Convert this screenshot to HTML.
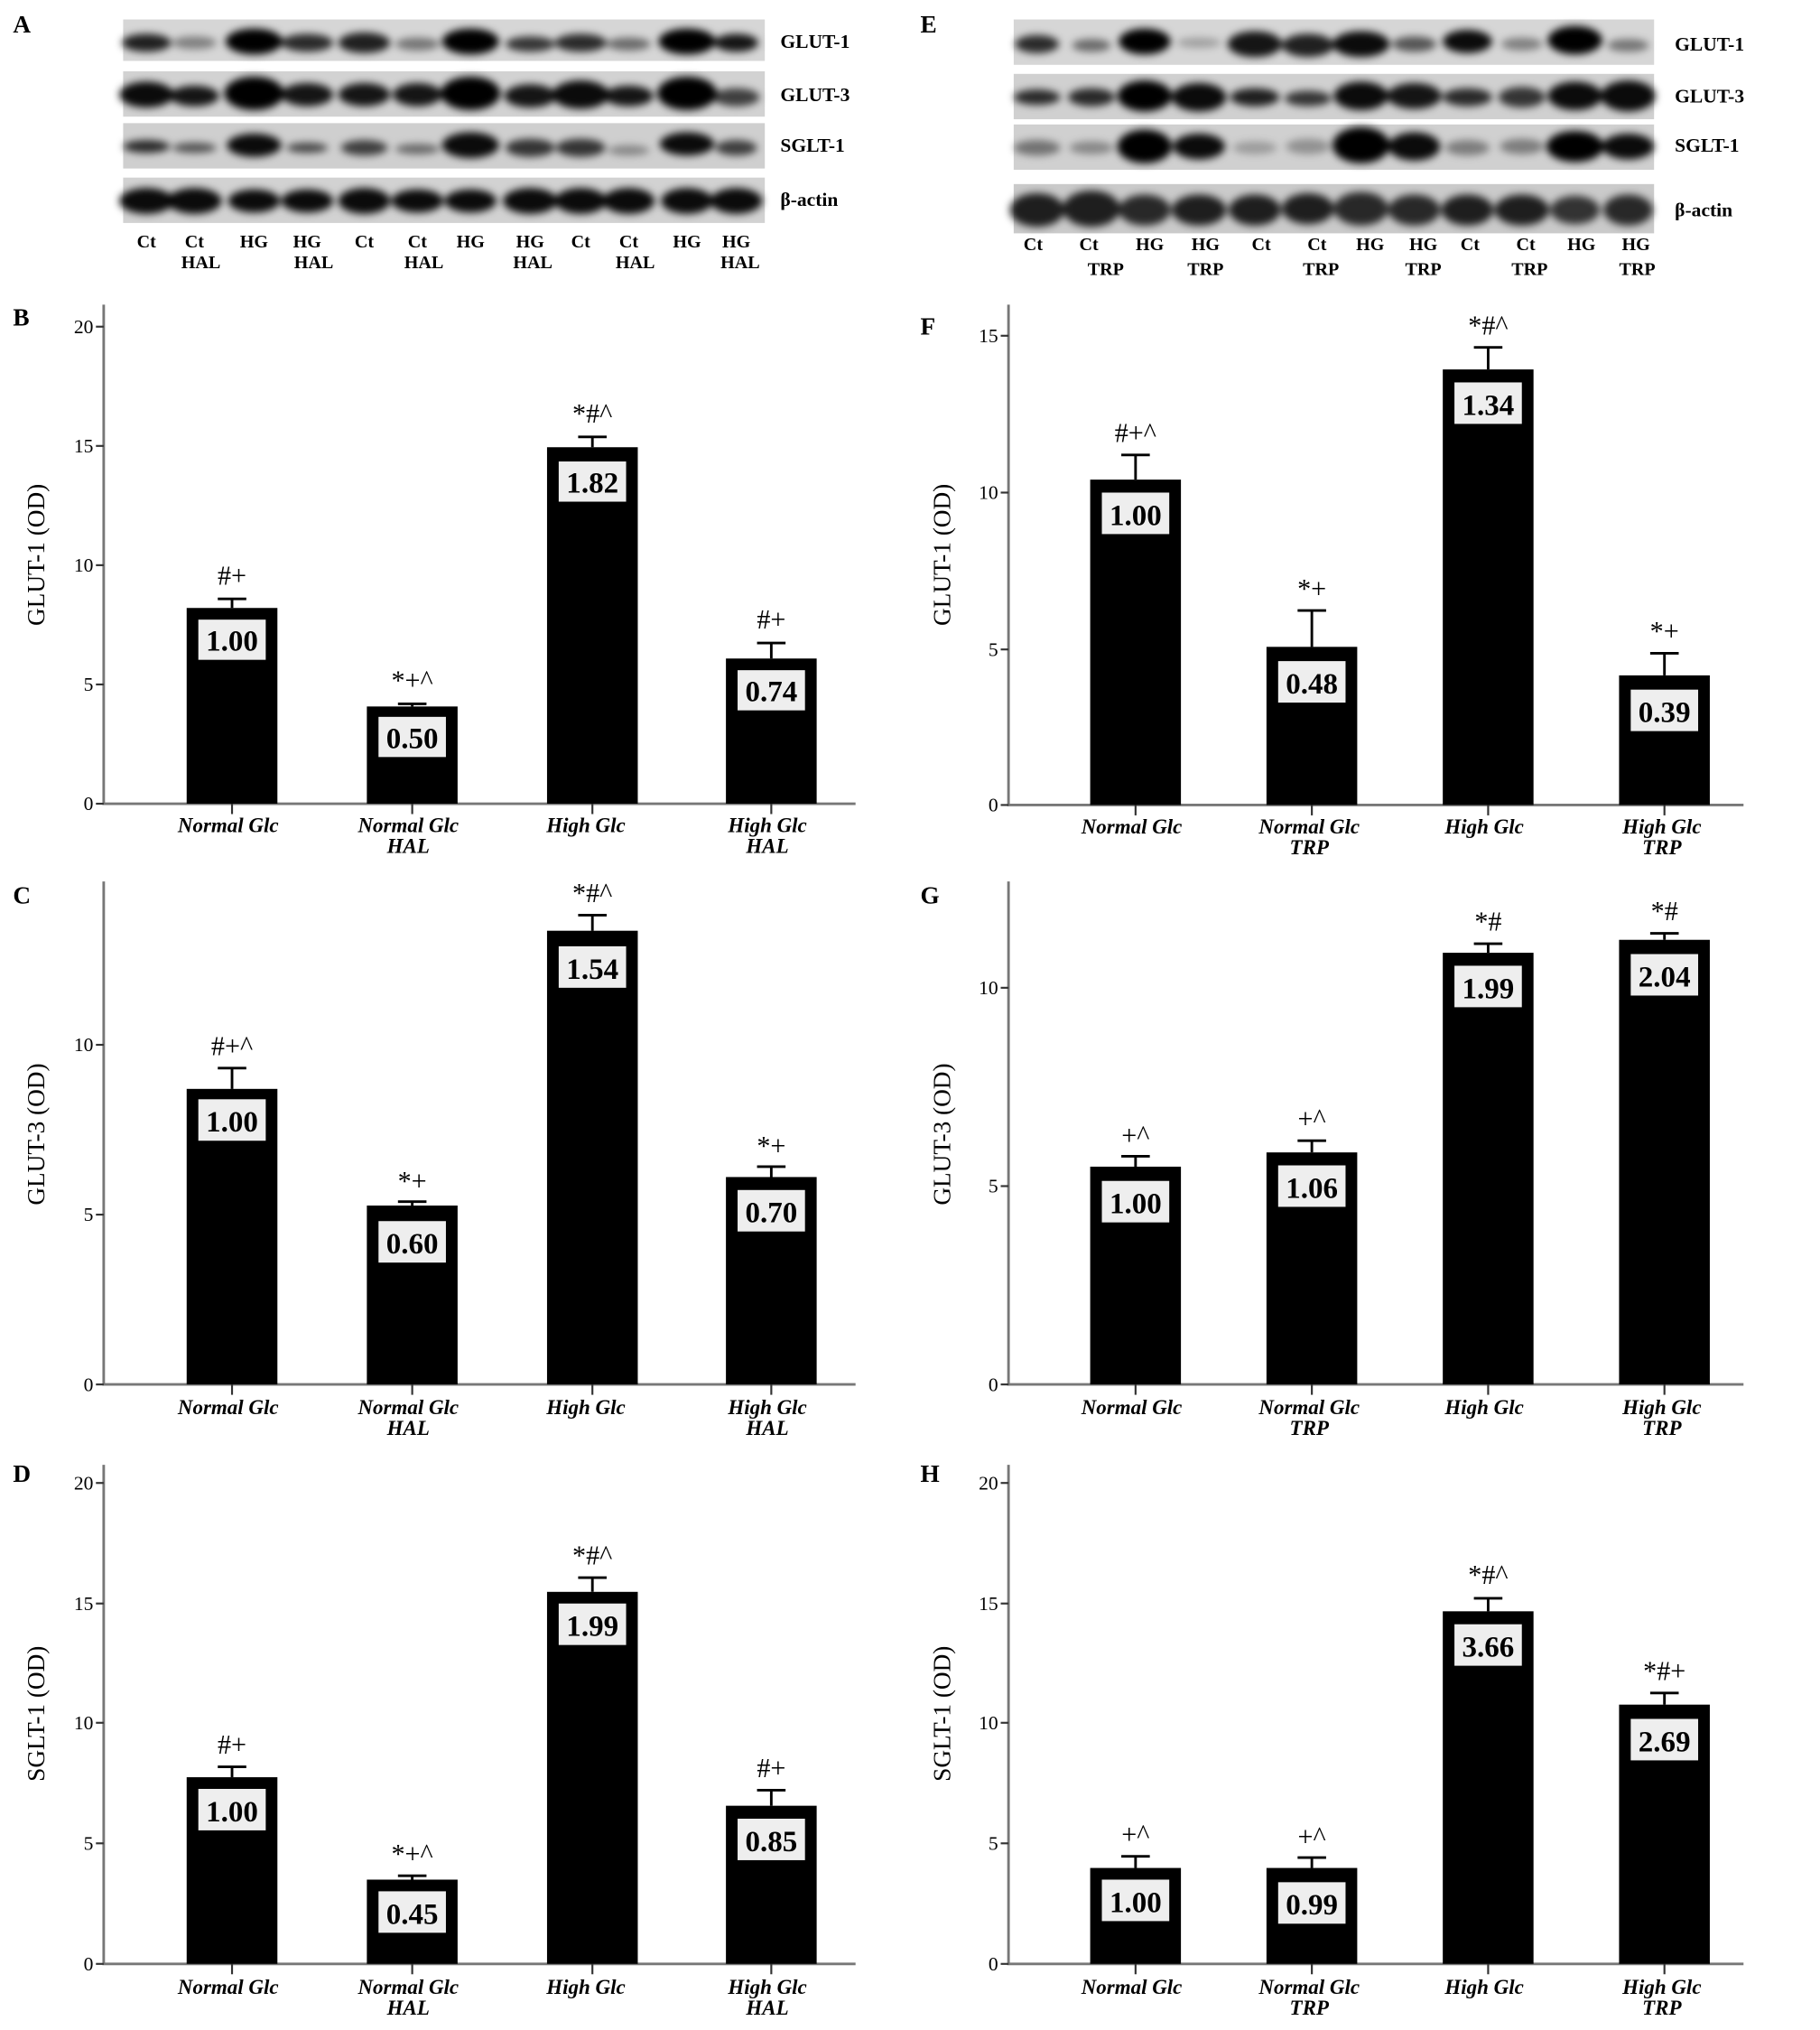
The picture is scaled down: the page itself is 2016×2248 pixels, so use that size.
<!DOCTYPE html>
<html><head><meta charset="utf-8"><style>
html,body{margin:0;padding:0;background:#fff;}
svg{display:block;}
text{font-family:"Liberation Serif",serif;}
.lt{font-weight:bold;font-size:15px;}
.pl{font-weight:bold;font-size:19px;}
.tk{font-size:15px;text-anchor:end;}
.xl{font-weight:bold;font-style:italic;font-size:16px;text-anchor:middle;}
.yt{font-size:19px;text-anchor:middle;}
.vl{font-weight:bold;font-size:23px;text-anchor:middle;}
.an{font-size:21px;text-anchor:middle;}
.ax{stroke:#777;stroke-width:2;fill:none;}
.tl{stroke:#333;stroke-width:1.5;}
.eb{stroke:#000;stroke-width:2;fill:none;}
.bx{fill:#eee;}
</style></head><body>
<svg width="2016" height="2248" viewBox="0 0 1404 1566" preserveAspectRatio="none" xmlns="http://www.w3.org/2000/svg">
<defs><filter id="bl" x="-30%" y="-60%" width="160%" height="220%"><feGaussianBlur stdDeviation="3"/></filter></defs>
<rect width="1404" height="1566" fill="#fff"/>

<text x="10" y="25" class="pl">A</text>
<g>
<rect x="95" y="15" width="495" height="32" fill="#d6d6d6"/>
<rect x="95" y="55" width="495" height="35" fill="#d2d2d2"/>
<rect x="95" y="95" width="495" height="35" fill="#cfcfcf"/>
<rect x="95" y="137" width="495" height="35" fill="#d2d2d2"/>
<g filter="url(#bl)" fill="#000">
<ellipse cx="113" cy="33" rx="19" ry="7" opacity=".85"/><ellipse cx="150" cy="33" rx="17" ry="5" opacity=".4"/><ellipse cx="196" cy="32" rx="22" ry="10" opacity="1"/><ellipse cx="237" cy="33" rx="20" ry="7" opacity=".8"/><ellipse cx="281" cy="33" rx="20" ry="8" opacity=".85"/><ellipse cx="322" cy="34" rx="17" ry="5" opacity=".45"/><ellipse cx="363" cy="32" rx="22" ry="10" opacity="1"/><ellipse cx="409" cy="34" rx="19" ry="6" opacity=".75"/><ellipse cx="448" cy="33" rx="20" ry="7" opacity=".8"/><ellipse cx="485" cy="34" rx="17" ry="5" opacity=".5"/><ellipse cx="530" cy="32" rx="22" ry="10" opacity="1"/><ellipse cx="568" cy="33" rx="17" ry="7" opacity=".9"/>
<ellipse cx="113" cy="73" rx="21" ry="10" opacity=".95"/><ellipse cx="150" cy="74" rx="19" ry="8" opacity=".9"/><ellipse cx="196" cy="72" rx="23" ry="13" opacity="1"/><ellipse cx="237" cy="73" rx="20" ry="9" opacity=".9"/><ellipse cx="281" cy="73" rx="20" ry="9" opacity=".9"/><ellipse cx="322" cy="73" rx="19" ry="9" opacity=".9"/><ellipse cx="363" cy="72" rx="23" ry="13" opacity="1"/><ellipse cx="409" cy="74" rx="20" ry="9" opacity=".9"/><ellipse cx="448" cy="73" rx="22" ry="11" opacity=".95"/><ellipse cx="485" cy="74" rx="19" ry="8" opacity=".9"/><ellipse cx="530" cy="72" rx="23" ry="13" opacity="1"/><ellipse cx="568" cy="75" rx="18" ry="7" opacity=".7"/>
<ellipse cx="113" cy="113" rx="18" ry="5" opacity=".8"/><ellipse cx="150" cy="114" rx="17" ry="4" opacity=".6"/><ellipse cx="196" cy="112" rx="21" ry="9" opacity=".95"/><ellipse cx="237" cy="114" rx="16" ry="4" opacity=".65"/><ellipse cx="281" cy="114" rx="18" ry="6" opacity=".7"/><ellipse cx="322" cy="115" rx="17" ry="4" opacity=".5"/><ellipse cx="363" cy="112" rx="22" ry="10" opacity=".95"/><ellipse cx="409" cy="114" rx="19" ry="7" opacity=".75"/><ellipse cx="448" cy="114" rx="19" ry="7" opacity=".75"/><ellipse cx="485" cy="116" rx="16" ry="4" opacity=".35"/><ellipse cx="530" cy="111" rx="21" ry="9" opacity=".95"/><ellipse cx="568" cy="114" rx="16" ry="6" opacity=".7"/>
<ellipse cx="113" cy="155" rx="21" ry="10" opacity=".95"/><ellipse cx="150" cy="155" rx="21" ry="10" opacity=".95"/><ellipse cx="196" cy="155" rx="20" ry="9" opacity=".95"/><ellipse cx="237" cy="155" rx="20" ry="9" opacity=".95"/><ellipse cx="281" cy="155" rx="20" ry="10" opacity=".95"/><ellipse cx="322" cy="155" rx="20" ry="9" opacity=".95"/><ellipse cx="363" cy="155" rx="20" ry="9" opacity=".95"/><ellipse cx="409" cy="155" rx="21" ry="10" opacity=".95"/><ellipse cx="448" cy="155" rx="20" ry="10" opacity=".95"/><ellipse cx="485" cy="155" rx="20" ry="10" opacity=".95"/><ellipse cx="530" cy="155" rx="20" ry="10" opacity=".95"/><ellipse cx="568" cy="155" rx="20" ry="10" opacity=".95"/>
</g>
<text x="602" y="37" class="lt">GLUT-1</text><text x="602" y="78" class="lt">GLUT-3</text><text x="602" y="117" class="lt">SGLT-1</text><text x="602" y="159" class="lt">β-actin</text>
<g class="lt" text-anchor="middle" style="font-size:14px">
<text x="113" y="191">Ct</text><text x="150" y="191">Ct</text><text x="196" y="191">HG</text><text x="237" y="191">HG</text><text x="281" y="191">Ct</text><text x="322" y="191">Ct</text><text x="363" y="191">HG</text><text x="409" y="191">HG</text><text x="448" y="191">Ct</text><text x="485" y="191">Ct</text><text x="530" y="191">HG</text><text x="568" y="191">HG</text>
<text x="155" y="207">HAL</text><text x="242" y="207">HAL</text><text x="327" y="207">HAL</text><text x="411" y="207">HAL</text><text x="490" y="207">HAL</text><text x="571" y="207">HAL</text>
</g>
</g>

<text x="710" y="25" class="pl">E</text>
<g>
<rect x="782" y="15" width="494" height="35" fill="#d6d6d6"/>
<rect x="782" y="57" width="494" height="35" fill="#d0d0d0"/>
<rect x="782" y="96" width="494" height="35" fill="#d0d0d0"/>
<rect x="782" y="142" width="494" height="38" fill="#cacaca"/>
<g filter="url(#bl)" fill="#000">
<ellipse cx="800" cy="34" rx="17" ry="7" opacity=".8"/><ellipse cx="842" cy="35" rx="15" ry="5" opacity=".5"/><ellipse cx="883" cy="32" rx="20" ry="10" opacity="1"/><ellipse cx="925" cy="33" rx="17" ry="4" opacity=".25"/><ellipse cx="968" cy="34" rx="21" ry="10" opacity=".9"/><ellipse cx="1009" cy="35" rx="20" ry="9" opacity=".85"/><ellipse cx="1050" cy="34" rx="22" ry="10" opacity=".95"/><ellipse cx="1091" cy="34" rx="17" ry="6" opacity=".6"/><ellipse cx="1132" cy="32" rx="19" ry="9" opacity=".95"/><ellipse cx="1174" cy="34" rx="16" ry="5" opacity=".4"/><ellipse cx="1215" cy="31" rx="21" ry="11" opacity="1"/><ellipse cx="1256" cy="35" rx="16" ry="5" opacity=".45"/>
<ellipse cx="800" cy="75" rx="18" ry="6" opacity=".8"/><ellipse cx="842" cy="75" rx="18" ry="7" opacity=".8"/><ellipse cx="883" cy="74" rx="21" ry="12" opacity="1"/><ellipse cx="925" cy="75" rx="21" ry="11" opacity=".95"/><ellipse cx="968" cy="75" rx="19" ry="7" opacity=".85"/><ellipse cx="1009" cy="76" rx="18" ry="6" opacity=".75"/><ellipse cx="1050" cy="74" rx="21" ry="11" opacity=".95"/><ellipse cx="1091" cy="74" rx="21" ry="10" opacity=".9"/><ellipse cx="1132" cy="75" rx="19" ry="7" opacity=".8"/><ellipse cx="1174" cy="75" rx="18" ry="8" opacity=".75"/><ellipse cx="1215" cy="74" rx="21" ry="11" opacity=".95"/><ellipse cx="1256" cy="74" rx="21" ry="12" opacity=".95"/>
<ellipse cx="800" cy="114" rx="18" ry="6" opacity=".45"/><ellipse cx="842" cy="114" rx="17" ry="5" opacity=".35"/><ellipse cx="883" cy="113" rx="21" ry="13" opacity="1"/><ellipse cx="925" cy="113" rx="20" ry="10" opacity=".95"/><ellipse cx="968" cy="114" rx="17" ry="5" opacity=".25"/><ellipse cx="1009" cy="113" rx="17" ry="6" opacity=".3"/><ellipse cx="1050" cy="112" rx="22" ry="14" opacity="1"/><ellipse cx="1091" cy="113" rx="20" ry="11" opacity=".95"/><ellipse cx="1132" cy="114" rx="17" ry="6" opacity=".4"/><ellipse cx="1174" cy="113" rx="17" ry="6" opacity=".4"/><ellipse cx="1215" cy="113" rx="22" ry="12" opacity="1"/><ellipse cx="1256" cy="113" rx="20" ry="10" opacity=".95"/>
<ellipse cx="800" cy="162" rx="21" ry="13" opacity=".85"/><ellipse cx="842" cy="161" rx="22" ry="14" opacity=".85"/><ellipse cx="883" cy="162" rx="20" ry="12" opacity=".8"/><ellipse cx="925" cy="162" rx="21" ry="12" opacity=".85"/><ellipse cx="968" cy="162" rx="20" ry="12" opacity=".85"/><ellipse cx="1009" cy="161" rx="20" ry="12" opacity=".85"/><ellipse cx="1050" cy="161" rx="21" ry="13" opacity=".8"/><ellipse cx="1091" cy="162" rx="20" ry="12" opacity=".8"/><ellipse cx="1132" cy="162" rx="20" ry="12" opacity=".85"/><ellipse cx="1174" cy="162" rx="21" ry="12" opacity=".85"/><ellipse cx="1215" cy="162" rx="19" ry="11" opacity=".75"/><ellipse cx="1256" cy="162" rx="19" ry="12" opacity=".8"/>
</g>
<text x="1292" y="39" class="lt">GLUT-1</text><text x="1292" y="79" class="lt">GLUT-3</text><text x="1292" y="117" class="lt">SGLT-1</text><text x="1292" y="167" class="lt">β-actin</text>
<g class="lt" text-anchor="middle" style="font-size:14px">
<text x="797" y="193">Ct</text><text x="840" y="193">Ct</text><text x="887" y="193">HG</text><text x="930" y="193">HG</text><text x="973" y="193">Ct</text><text x="1016" y="193">Ct</text><text x="1057" y="193">HG</text><text x="1098" y="193">HG</text><text x="1134" y="193">Ct</text><text x="1177" y="193">Ct</text><text x="1220" y="193">HG</text><text x="1262" y="193">HG</text>
<text x="853" y="212">TRP</text><text x="930" y="212">TRP</text><text x="1019" y="212">TRP</text><text x="1098" y="212">TRP</text><text x="1180" y="212">TRP</text><text x="1263" y="212">TRP</text>
</g>
</g>

<text x="10" y="251" class="pl">B</text>
<text class="yt" transform="translate(34,428) rotate(-90)">GLUT-1 (OD)</text>
<path class="ax" d="M80,235 V620 H660"/>
<g class="tl"><line x1="74" x2="80" y1="620" y2="620"/><line x1="74" x2="80" y1="528" y2="528"/><line x1="74" x2="80" y1="436" y2="436"/><line x1="74" x2="80" y1="344" y2="344"/><line x1="74" x2="80" y1="252" y2="252"/>
<line x1="179" x2="179" y1="620" y2="628"/><line x1="318" x2="318" y1="620" y2="628"/><line x1="457" x2="457" y1="620" y2="628"/><line x1="595" x2="595" y1="620" y2="628"/></g>
<text x="72" y="625" class="tk">0</text><text x="72" y="533" class="tk">5</text><text x="72" y="441" class="tk">10</text><text x="72" y="349" class="tk">15</text><text x="72" y="257" class="tk">20</text>
<rect x="144" y="469" width="70" height="151"/><rect x="283" y="545" width="70" height="75"/><rect x="422" y="345" width="70" height="275"/><rect x="560" y="508" width="70" height="112"/>
<path class="eb" d="M179,469V462M168,462H190 M318,545V543M307,543H329 M457,345V337M446,337H468 M595,508V496M584,496H606"/>
<text x="179" y="451" class="an">#+</text><text x="318" y="532" class="an">*+^</text><text x="457" y="326" class="an">*#^</text><text x="595" y="485" class="an">#+</text>
<rect class="bx" x="153" y="478" width="52" height="31"/><text x="179" y="502" class="vl">1.00</text>
<rect class="bx" x="292" y="553" width="52" height="31"/><text x="318" y="577" class="vl">0.50</text>
<rect class="bx" x="431" y="356" width="52" height="31"/><text x="457" y="380" class="vl">1.82</text>
<rect class="bx" x="569" y="517" width="52" height="31"/><text x="595" y="541" class="vl">0.74</text>
<text x="176" y="642" class="xl">Normal Glc</text><text x="315" y="642" class="xl">Normal Glc</text><text x="315" y="658" class="xl">HAL</text><text x="452" y="642" class="xl">High Glc</text><text x="592" y="642" class="xl">High Glc</text><text x="592" y="658" class="xl">HAL</text>

<text x="10" y="697" class="pl">C</text>
<text class="yt" transform="translate(34,875) rotate(-90)">GLUT-3 (OD)</text>
<path class="ax" d="M80,680 V1068 H660"/>
<g class="tl"><line x1="74" x2="80" y1="1068" y2="1068"/><line x1="74" x2="80" y1="937" y2="937"/><line x1="74" x2="80" y1="806" y2="806"/>
<line x1="179" x2="179" y1="1068" y2="1076"/><line x1="318" x2="318" y1="1068" y2="1076"/><line x1="457" x2="457" y1="1068" y2="1076"/><line x1="595" x2="595" y1="1068" y2="1076"/></g>
<text x="72" y="1073" class="tk">0</text><text x="72" y="942" class="tk">5</text><text x="72" y="811" class="tk">10</text>
<rect x="144" y="840" width="70" height="228"/><rect x="283" y="930" width="70" height="138"/><rect x="422" y="718" width="70" height="350"/><rect x="560" y="908" width="70" height="160"/>
<path class="eb" d="M179,840V824M168,824H190 M318,930V927M307,927H329 M457,718V706M446,706H468 M595,908V900M584,900H606"/>
<text x="179" y="814" class="an">#+^</text><text x="318" y="918" class="an">*+</text><text x="457" y="696" class="an">*#^</text><text x="595" y="891" class="an">*+</text>
<rect class="bx" x="153" y="848" width="52" height="32"/><text x="179" y="873" class="vl">1.00</text>
<rect class="bx" x="292" y="942" width="52" height="32"/><text x="318" y="967" class="vl">0.60</text>
<rect class="bx" x="431" y="730" width="52" height="32"/><text x="457" y="755" class="vl">1.54</text>
<rect class="bx" x="569" y="918" width="52" height="32"/><text x="595" y="943" class="vl">0.70</text>
<text x="176" y="1091" class="xl">Normal Glc</text><text x="315" y="1091" class="xl">Normal Glc</text><text x="315" y="1107" class="xl">HAL</text><text x="452" y="1091" class="xl">High Glc</text><text x="592" y="1091" class="xl">High Glc</text><text x="592" y="1107" class="xl">HAL</text>

<text x="10" y="1143" class="pl">D</text>
<text class="yt" transform="translate(34,1322) rotate(-90)">SGLT-1 (OD)</text>
<path class="ax" d="M80,1130 V1515 H660"/>
<g class="tl"><line x1="74" x2="80" y1="1515" y2="1515"/><line x1="74" x2="80" y1="1422" y2="1422"/><line x1="74" x2="80" y1="1329" y2="1329"/><line x1="74" x2="80" y1="1237" y2="1237"/><line x1="74" x2="80" y1="1144" y2="1144"/>
<line x1="179" x2="179" y1="1515" y2="1523"/><line x1="318" x2="318" y1="1515" y2="1523"/><line x1="457" x2="457" y1="1515" y2="1523"/><line x1="595" x2="595" y1="1515" y2="1523"/></g>
<text x="72" y="1520" class="tk">0</text><text x="72" y="1427" class="tk">5</text><text x="72" y="1334" class="tk">10</text><text x="72" y="1242" class="tk">15</text><text x="72" y="1149" class="tk">20</text>
<rect x="144" y="1371" width="70" height="144"/><rect x="283" y="1450" width="70" height="65"/><rect x="422" y="1228" width="70" height="287"/><rect x="560" y="1393" width="70" height="122"/>
<path class="eb" d="M179,1371V1363M168,1363H190 M318,1450V1447M307,1447H329 M457,1228V1217M446,1217H468 M595,1393V1381M584,1381H606"/>
<text x="179" y="1353" class="an">#+</text><text x="318" y="1437" class="an">*+^</text><text x="457" y="1207" class="an">*#^</text><text x="595" y="1371" class="an">#+</text>
<rect class="bx" x="153" y="1380" width="52" height="32"/><text x="179" y="1405" class="vl">1.00</text>
<rect class="bx" x="292" y="1459" width="52" height="32"/><text x="318" y="1484" class="vl">0.45</text>
<rect class="bx" x="431" y="1237" width="52" height="32"/><text x="457" y="1262" class="vl">1.99</text>
<rect class="bx" x="569" y="1403" width="52" height="32"/><text x="595" y="1428" class="vl">0.85</text>
<text x="176" y="1538" class="xl">Normal Glc</text><text x="315" y="1538" class="xl">Normal Glc</text><text x="315" y="1554" class="xl">HAL</text><text x="452" y="1538" class="xl">High Glc</text><text x="592" y="1538" class="xl">High Glc</text><text x="592" y="1554" class="xl">HAL</text>

<text x="710" y="258" class="pl">F</text>
<text class="yt" transform="translate(733,428) rotate(-90)">GLUT-1 (OD)</text>
<path class="ax" d="M778,235 V621 H1345"/>
<g class="tl"><line x1="772" x2="778" y1="621" y2="621"/><line x1="772" x2="778" y1="501" y2="501"/><line x1="772" x2="778" y1="380" y2="380"/><line x1="772" x2="778" y1="259" y2="259"/>
<line x1="876" x2="876" y1="621" y2="629"/><line x1="1012" x2="1012" y1="621" y2="629"/><line x1="1148" x2="1148" y1="621" y2="629"/><line x1="1284" x2="1284" y1="621" y2="629"/></g>
<text x="770" y="626" class="tk">0</text><text x="770" y="506" class="tk">5</text><text x="770" y="385" class="tk">10</text><text x="770" y="264" class="tk">15</text>
<rect x="841" y="370" width="70" height="251"/><rect x="977" y="499" width="70" height="122"/><rect x="1113" y="285" width="70" height="336"/><rect x="1249" y="521" width="70" height="100"/>
<path class="eb" d="M876,370V351M865,351H887 M1012,499V471M1001,471H1023 M1148,285V268M1137,268H1159 M1284,521V504M1273,504H1295"/>
<text x="876" y="341" class="an">#+^</text><text x="1012" y="461" class="an">*+</text><text x="1148" y="258" class="an">*#^</text><text x="1284" y="494" class="an">*+</text>
<rect class="bx" x="850" y="380" width="52" height="32"/><text x="876" y="405" class="vl">1.00</text>
<rect class="bx" x="986" y="510" width="52" height="32"/><text x="1012" y="535" class="vl">0.48</text>
<rect class="bx" x="1122" y="295" width="52" height="32"/><text x="1148" y="320" class="vl">1.34</text>
<rect class="bx" x="1258" y="532" width="52" height="32"/><text x="1284" y="557" class="vl">0.39</text>
<text x="873" y="643" class="xl">Normal Glc</text><text x="1010" y="643" class="xl">Normal Glc</text><text x="1010" y="659" class="xl">TRP</text><text x="1145" y="643" class="xl">High Glc</text><text x="1282" y="643" class="xl">High Glc</text><text x="1282" y="659" class="xl">TRP</text>

<text x="710" y="697" class="pl">G</text>
<text class="yt" transform="translate(733,875) rotate(-90)">GLUT-3 (OD)</text>
<path class="ax" d="M778,680 V1068 H1345"/>
<g class="tl"><line x1="772" x2="778" y1="1068" y2="1068"/><line x1="772" x2="778" y1="915" y2="915"/><line x1="772" x2="778" y1="762" y2="762"/>
<line x1="876" x2="876" y1="1068" y2="1076"/><line x1="1012" x2="1012" y1="1068" y2="1076"/><line x1="1148" x2="1148" y1="1068" y2="1076"/><line x1="1284" x2="1284" y1="1068" y2="1076"/></g>
<text x="770" y="1073" class="tk">0</text><text x="770" y="920" class="tk">5</text><text x="770" y="767" class="tk">10</text>
<rect x="841" y="900" width="70" height="168"/><rect x="977" y="889" width="70" height="179"/><rect x="1113" y="735" width="70" height="333"/><rect x="1249" y="725" width="70" height="343"/>
<path class="eb" d="M876,900V892M865,892H887 M1012,889V880M1001,880H1023 M1148,735V728M1137,728H1159 M1284,725V720M1273,720H1295"/>
<text x="876" y="883" class="an">+^</text><text x="1012" y="870" class="an">+^</text><text x="1148" y="718" class="an">*#</text><text x="1284" y="710" class="an">*#</text>
<rect class="bx" x="850" y="911" width="52" height="32"/><text x="876" y="936" class="vl">1.00</text>
<rect class="bx" x="986" y="899" width="52" height="32"/><text x="1012" y="924" class="vl">1.06</text>
<rect class="bx" x="1122" y="745" width="52" height="32"/><text x="1148" y="770" class="vl">1.99</text>
<rect class="bx" x="1258" y="736" width="52" height="32"/><text x="1284" y="761" class="vl">2.04</text>
<text x="873" y="1091" class="xl">Normal Glc</text><text x="1010" y="1091" class="xl">Normal Glc</text><text x="1010" y="1107" class="xl">TRP</text><text x="1145" y="1091" class="xl">High Glc</text><text x="1282" y="1091" class="xl">High Glc</text><text x="1282" y="1107" class="xl">TRP</text>

<text x="710" y="1143" class="pl">H</text>
<text class="yt" transform="translate(733,1322) rotate(-90)">SGLT-1 (OD)</text>
<path class="ax" d="M778,1130 V1515 H1345"/>
<g class="tl"><line x1="772" x2="778" y1="1515" y2="1515"/><line x1="772" x2="778" y1="1422" y2="1422"/><line x1="772" x2="778" y1="1329" y2="1329"/><line x1="772" x2="778" y1="1237" y2="1237"/><line x1="772" x2="778" y1="1144" y2="1144"/>
<line x1="876" x2="876" y1="1515" y2="1523"/><line x1="1012" x2="1012" y1="1515" y2="1523"/><line x1="1148" x2="1148" y1="1515" y2="1523"/><line x1="1284" x2="1284" y1="1515" y2="1523"/></g>
<text x="770" y="1520" class="tk">0</text><text x="770" y="1427" class="tk">5</text><text x="770" y="1334" class="tk">10</text><text x="770" y="1242" class="tk">15</text><text x="770" y="1149" class="tk">20</text>
<rect x="841" y="1441" width="70" height="74"/><rect x="977" y="1441" width="70" height="74"/><rect x="1113" y="1243" width="70" height="272"/><rect x="1249" y="1315" width="70" height="200"/>
<path class="eb" d="M876,1441V1432M865,1432H887 M1012,1441V1433M1001,1433H1023 M1148,1243V1233M1137,1233H1159 M1284,1315V1306M1273,1306H1295"/>
<text x="876" y="1422" class="an">+^</text><text x="1012" y="1424" class="an">+^</text><text x="1148" y="1222" class="an">*#^</text><text x="1284" y="1296" class="an">*#+</text>
<rect class="bx" x="850" y="1450" width="52" height="32"/><text x="876" y="1475" class="vl">1.00</text>
<rect class="bx" x="986" y="1452" width="52" height="32"/><text x="1012" y="1477" class="vl">0.99</text>
<rect class="bx" x="1122" y="1253" width="52" height="32"/><text x="1148" y="1278" class="vl">3.66</text>
<rect class="bx" x="1258" y="1326" width="52" height="32"/><text x="1284" y="1351" class="vl">2.69</text>
<text x="873" y="1538" class="xl">Normal Glc</text><text x="1010" y="1538" class="xl">Normal Glc</text><text x="1010" y="1554" class="xl">TRP</text><text x="1145" y="1538" class="xl">High Glc</text><text x="1282" y="1538" class="xl">High Glc</text><text x="1282" y="1554" class="xl">TRP</text>
</svg>
</body></html>
